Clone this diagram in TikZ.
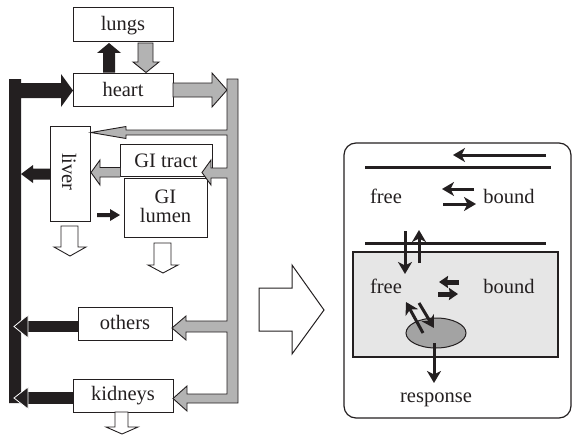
\documentclass[tikz,border=0pt]{standalone}
\usepackage{fontspec}
\setmainfont{Liberation Serif}
\usetikzlibrary{arrows.meta,shapes.geometric}
\definecolor{ink}{HTML}{231F20}
\definecolor{pipegray}{HTML}{B3B3B3}
\definecolor{cellgray}{HTML}{E6E6E6}
\definecolor{recgray}{HTML}{A3A3A3}
\begin{document}
\begin{tikzpicture}[x=1pt,y=-1pt,
  box/.style={draw=ink,line width=1pt,fill=white,inner sep=0pt},
  lbl/.style={font=\fontsize{20.5}{24}\selectfont,text=ink,inner sep=0pt,anchor=base},
  gpipe/.style={draw=ink,line width=0.9pt,fill=pipegray,line join=miter},
  bpipe/.style={fill=ink,draw=none},
  bhead/.style={fill=ink,draw=white,line width=0.8pt},
  hollow/.style={draw=ink,line width=0.9pt,fill=white,line join=miter},
  thinarr/.style={draw=ink,line width=3pt,-{Stealth[length=12pt,width=14pt,inset=3.5pt]}},
  fatarr/.style={draw=ink,line width=5pt,-{Stealth[length=9pt,width=12pt,inset=1pt]}},
  rule/.style={draw=ink,line width=3pt}
]
\useasboundingbox (0,0) rectangle (572,444);

% ---------- boxes ----------
\node[box,minimum width=100pt,minimum height=34pt] (lungs) at (123,25) {};
\node[box,minimum width=100pt,minimum height=33pt] (heart) at (123,89.5) {};
\node[box,minimum width=40pt,minimum height=95pt] (liver) at (70,173.5) {};
\node[box,minimum width=92pt,minimum height=32pt] (gitract) at (166,160) {};
\node[box,minimum width=83pt,minimum height=59pt] (gilumen) at (165.5,207.5) {};
\node[box,minimum width=94pt,minimum height=33pt] (others) at (125,323.5) {};
\node[box,minimum width=100pt,minimum height=33pt] (kidneys) at (123,395.5) {};

\node[lbl] (tlungs) at (123,31) {lungs};
\node[lbl] (theart) at (123,96) {heart};
\node[lbl,rotate=-90] (tliver) at (62,172) {liver};
\node[lbl] (tgitract) at (166,167) {GI tract};
\node[lbl] (tgi) at (165.5,203) {GI};
\node[lbl] (tlumen) at (165.5,222) {lumen};
\node[lbl] (tothers) at (125,329) {others};
\node[lbl] (tkidneys) at (123,400) {kidneys};

% ---------- lungs/heart arrows ----------
\fill[bpipe] (103,72.5) -- (103,53) -- (97,53) -- (109,43) -- (121,53) -- (115,53) -- (115,72.5) -- cycle;
\draw[gpipe] (138,43) -- (153,43) -- (153,62) -- (159,62) -- (146,72.5) -- (133,62) -- (138,62) -- cycle;
\draw[gpipe] (173,83) -- (212,83) -- (212,73) -- (227,90) -- (212,107) -- (212,97) -- (173,97) -- cycle;

% ---------- gray distribution pipe ----------
\draw[gpipe] (227,79) -- (238,79) -- (238,403) -- (187,403) -- (187,411) -- (173,398.5) -- (187,386) -- (187,394) -- (227,394)
  -- (227,332) -- (186,332) -- (186,340) -- (172,328) -- (186,316) -- (186,321) -- (227,321)
  -- (227,178) -- (211,178) -- (211,185) -- (202,172.5) -- (211,160) -- (211,168) -- (227,168)
  -- (227,135) -- (126,135) -- (126,138.5) -- (91,132.5) -- (126,126.5) -- (126,130) -- (227,130) -- cycle;
% GI tract -> liver
\draw[gpipe] (120,167.5) -- (100,167.5) -- (100,160) -- (91,172.5) -- (100,185) -- (100,177) -- (120,177);

% ---------- black return pipe ----------
\fill[bpipe] (9,79) -- (21,79) -- (21,83) -- (61,83) -- (61,74) -- (73,90.5) -- (61,107) -- (61,98) -- (21,98) -- (21,403) -- (9,403) -- cycle;
\fill[bpipe] (50,168.5) -- (33,168.5) -- (33,165) -- (21,174) -- (33,183) -- (33,179.5) -- (50,179.5) -- cycle;
\fill[bpipe] (78,321) -- (28,321) -- (28,332) -- (78,332) -- cycle;
\draw[bhead] (28,315) -- (14,326.5) -- (28,338) -- cycle;
\fill[bpipe] (73,392) -- (28,392) -- (28,404) -- (73,404) -- cycle;
\draw[bhead] (28,387) -- (14,398) -- (28,409) -- cycle;
% liver -> GI lumen
\fill[bpipe] (97,213) -- (110,213) -- (110,209) -- (120,215) -- (110,221) -- (110,217) -- (97,217) -- cycle;

% ---------- excretion (hollow) arrows ----------
\draw[hollow] (61,226) -- (78,226) -- (78,247) -- (86,247) -- (70,256) -- (54,247) -- (61,247) -- cycle;
\draw[hollow] (154,243) -- (171,243) -- (171,265) -- (178,265) -- (163,273) -- (148,265) -- (154,265) -- cycle;
\draw[hollow] (115,412) -- (128,412) -- (128,427) -- (138,427) -- (122,434) -- (106,427) -- (115,427) -- cycle;

% ---------- big arrow ----------
\draw[hollow,line width=1pt] (259,288) -- (292,288) -- (292,265) -- (324,310) -- (292,354) -- (292,331) -- (259,331) -- cycle;

% ---------- right panel ----------
\draw[ink,line width=1.2pt,rounded corners=12pt] (344,143) rectangle (571,418);
\coordinate (flowA) at (546,155);
\coordinate (flowB) at (453,155);
\draw[thinarr] (flowA) -- (flowB);
\coordinate (m1a) at (365,167);
\coordinate (m1b) at (551,167);
\draw[rule] (m1a) -- (m1b);

\node[lbl] (free1) at (386,203) {free};
\node[lbl] (bound1) at (509,203) {bound};
\coordinate (e1a) at (474,189);
\coordinate (e1b) at (442,189);
\coordinate (e2a) at (443,204);
\coordinate (e2b) at (476,204);
\draw[thinarr] (e1a) -- (e1b);
\draw[thinarr] (e2a) -- (e2b);

\node[draw=ink,line width=1.2pt,fill=cellgray,minimum width=205pt,minimum height=105pt,inner sep=0pt] (cell) at (455.5,304.5) {};
\coordinate (m2a) at (365,243);
\coordinate (m2b) at (546,243);
\draw[rule] (m2a) -- (m2b);

\coordinate (d1) at (405,231);
\coordinate (d2) at (405,274);
\coordinate (u1) at (419,263);
\coordinate (u2) at (419,230);
\draw[thinarr] (d1) -- (d2);
\draw[thinarr] (u1) -- (u2);

\node[lbl] (free2) at (386,293) {free};
\node[lbl] (bound2) at (509,293) {bound};
\coordinate (f1a) at (459,282);
\coordinate (f1b) at (439,282);
\coordinate (f2a) at (438,294);
\coordinate (f2b) at (458,294);
\draw[fatarr] (f1a) -- (f1b);
\draw[fatarr] (f2a) -- (f2b);

\node[draw=ink,line width=1pt,fill=recgray,ellipse,minimum width=60pt,minimum height=30pt,inner sep=0pt] (rec) at (436,333) {};
\coordinate (r1a) at (423,333);
\coordinate (r1b) at (406,302);
\coordinate (r2a) at (419,303);
\coordinate (r2b) at (434,328);
\draw[thinarr] (r1a) -- (r1b);
\draw[thinarr] (r2a) -- (r2b);

\node[lbl] (resp) at (436,402) {response};
\coordinate (rs) at (434,343);
\draw[thinarr] (rs) -- (434,383);
\end{tikzpicture}
\end{document}
